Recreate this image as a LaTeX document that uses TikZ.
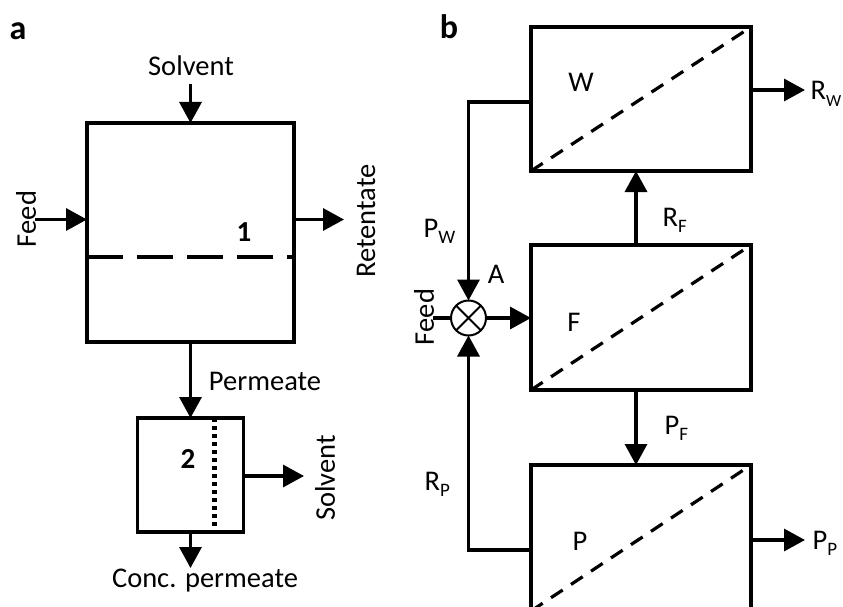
\documentclass[tikz,border=0pt]{standalone}
\usepackage{fontspec}
\setmainfont{Carlito}
\usetikzlibrary{arrows.meta}
\newcommand{\subtxt}[1]{\raisebox{-6.5pt}{\fontsize{19}{20}\selectfont #1}}
\begin{document}
\begin{tikzpicture}[x=1pt,y=-1pt,line cap=butt,line join=miter,line width=3.3pt,font=\fontsize{28.5}{32}\selectfont,>={Triangle[length=21pt,width=22pt]}]
	\tikzset{box style/.style={draw,minimum width=#1,outer sep=0pt,inner sep=0pt},
		txt style/.style={inner sep=0pt},
		sub style/.style={inner sep=0pt,anchor=base west},
		bold style/.style={inner sep=0pt,font=\fontsize{29}{32}\selectfont\bfseries},
		head style/.style={inner sep=0pt,font=\fontsize{34}{36}\selectfont\bfseries},
		memb style/.style={line width=3.2pt,dash pattern=on 14pt off 10pt}}
	\path[use as bounding box,clip] (0,0) rectangle (843,607);
	% panel a
	\node[head style] (a) at (18,31) {a};
	\node[box style=207pt,minimum height=219pt] (cellA) at (190.5,232.5) {};
	\node[box style=106pt,minimum height=114pt] (cellB) at (190.5,475) {};
	\node[txt style] (solvtop) at (191,66) {Solvent};
	\node[txt style,rotate=90] (feedA) at (26,219) {Feed};
	\node[txt style,rotate=90] (reten) at (366,221) {Retentate};
	\node[txt style] (perm) at (265,381) {Permeate};
	\node[txt style,rotate=90] (solvout) at (325,478) {Solvent};
	\node[txt style] (conc) at (205,581) {Conc. permeate};
	\node[bold style] (one) at (244,232) {1};
	\node[bold style] (two) at (188,459) {2};
	\coordinate (solvend) at (190.5,84);
	\coordinate (feedend) at (35,219.5);
	\coordinate (retenend) at (344,219.5);
	\coordinate (solvoutend) at (304,476);
	\coordinate (concend) at (190.5,568);
	\draw[->] (solvend)--(cellA.north);
	\draw[->] (feedend)--(cellA.west |- feedend);
	\draw[->] (cellA.east |- retenend)--(retenend);
	\draw[->] (cellA.south)--(cellB.north);
	\draw[->] (cellB.east |- solvoutend)--(solvoutend);
	\draw[->] (cellB.south)--(concend);
	\draw[line width=4.5pt,dash pattern=on 36pt off 14pt] (cellA.west |- 0,257)--(cellA.east |- 0,257);
	\draw[line width=5pt,dash pattern=on 4pt off 4pt] (214,418)--(214,532);
	% panel b
	\node[head style] (b) at (449,27) {b};
	\node[box style=220pt,minimum height=144pt] (W) at (641,99) {};
	\node[box style=220pt,minimum height=145pt] (F) at (641,317.5) {};
	\node[box style=220pt,minimum height=146pt] (P) at (641,538) {};
	\node[draw,circle,line width=2pt,minimum size=35pt,inner sep=0pt,outer sep=0pt] (mix) at (468.5,318) {};
	\draw[line width=2pt] (mix.north west)--(mix.south east) (mix.north east)--(mix.south west);
	\node[txt style] (wlab) at (581,82) {W};
	\node[txt style] (flab) at (574,322) {F};
	\node[txt style] (plab) at (580,541) {P};
	\node[txt style] (alab) at (496,274) {A};
	\node[txt style,rotate=90] (feedB) at (424,317) {Feed};
	\node[sub style] (pw) at (422,237) {P\subtxt{W}};
	\node[sub style] (rp) at (423,490) {R\subtxt{P}};
	\node[sub style] (rf) at (661,226) {R\subtxt{F}};
	\node[sub style] (pf) at (663,434) {P\subtxt{F}};
	\node[sub style] (rw) at (809,100) {R\raisebox{-6.5pt}{\fontsize{17}{18}\selectfont W}};
	\node[sub style] (pp) at (811,549) {P\subtxt{P}};
	\coordinate (rwend) at (805,90);
	\coordinate (ppend) at (805,540);
	\coordinate (wout) at (531,102);
	\coordinate (pout) at (531,550);
	\coordinate (feedstub) at (433,318);
	\draw[memb style] (W.south west)--(W.north east);
	\draw[memb style] (F.south west)--(F.north east);
	\draw[memb style] (P.south west)--(P.north east);
	\draw[->] (W.east |- rwend)--(rwend);
	\draw[->] (P.east |- ppend)--(ppend);
	\draw[->] (F.north -| 636,0)--(W.south -| 636,0);
	\draw[->] (F.south -| 636,0)--(P.north -| 636,0);
	\draw[->] (wout)-|(mix.north);
	\draw[->] (pout)-|(mix.south);
	\draw[->] (mix.east)--(F.west |- mix);
	\draw (feedstub)--(mix.west);
\end{tikzpicture}
\end{document}
